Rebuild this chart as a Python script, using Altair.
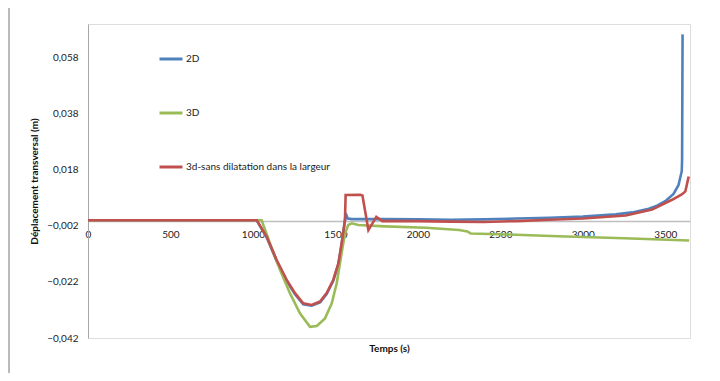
import altair as alt
import pandas as pd

# ---- data ----
series_names = ["2D", "3D", "3d-sans dilatation dans la largeur"]
series_colors = ["#4F81BD", "#9BBB59", "#C0504D"]

t_2d = [0, 1000, 1023, 1083, 1144, 1205, 1255, 1305, 1356, 1407, 1447, 1487, 1518, 1538, 1558,
        1562, 1575, 1600, 1800, 2000, 2200, 2400, 2600, 2800, 3000, 3200, 3300, 3400, 3450,
        3500, 3550, 3580, 3600, 3602, 3605]
v_2d = [0, 0, 0, -0.0061, -0.0146, -0.0217, -0.0264, -0.0300, -0.0305, -0.0293, -0.0263, -0.0216,
        -0.0157, -0.0085, 0, 0.0025, 0.0006, 0.0004, 0.0004, 0.0003, 0.0002, 0.0003, 0.0006,
        0.0009, 0.0013, 0.0021, 0.0028, 0.0041, 0.0052, 0.0068, 0.0094, 0.0125, 0.0175, 0.0215,
        0.0663]

t_3d = [0, 1053, 1103, 1164, 1225, 1285, 1346, 1387, 1437, 1478, 1508, 1534, 1558, 1578, 1599,
        1639, 1800, 2050, 2250, 2300, 2320, 2550, 2850, 3250, 3645]
v_3d = [0, 0, -0.0082, -0.0177, -0.0261, -0.0332, -0.0380, -0.0377, -0.0350, -0.0296, -0.0225,
        -0.0130, -0.0047, -0.0017, -0.0011, -0.0017, -0.0022, -0.0027, -0.0035, -0.0040,
        -0.0047, -0.0051, -0.0057, -0.0064, -0.0072]

t_3ds = [0, 1023, 1083, 1144, 1205, 1255, 1305, 1356, 1407, 1447, 1487, 1518, 1538, 1558, 1562,
         1650, 1664, 1700, 1748, 1785, 2000, 2200, 2400, 2600, 2800, 3000, 3260, 3420, 3541,
         3600, 3622, 3642]
v_3ds = [0, 0, -0.0058, -0.0142, -0.0213, -0.0260, -0.0296, -0.0302, -0.0290, -0.0260, -0.0213,
         -0.0154, -0.0082, 0, 0.0090, 0.0091, 0.0088, -0.0035, 0.0012, -0.0003, -0.0003, -0.0005,
         -0.0006, -0.0003, 0.0002, 0.0006, 0.0017, 0.0038, 0.0073, 0.0092, 0.0103, 0.0156]

y_ticks = [-0.042, -0.022, -0.002, 0.018, 0.038, 0.058]
x_ticks = [0, 500, 1000, 1500, 2000, 2500, 3000, 3500]

rows = []
for name, ts, vs in [(series_names[0], t_2d, v_2d), (series_names[1], t_3d, v_3d),
                     (series_names[2], t_3ds, v_3ds)]:
    for i, (t, v) in enumerate(zip(ts, vs)):
        rows.append({"serie": name, "t": t, "v": v, "i": i})
df = pd.DataFrame(rows)

FONT = "Lato"

lines = alt.Chart(df).mark_line(strokeWidth=2.6, clip=False).encode(
    x=alt.X("t:Q", scale=alt.Scale(domain=[0, 3650], nice=False, zero=False),
            axis=alt.Axis(values=x_ticks, format="d", offset=-117, ticks=False, grid=False,
                          domainColor="#BFBFBF", domainWidth=1.5, labelPadding=8,
                          labelFontSize=10, labelColor="#222", labelFont=FONT,
                          title="Temps (s)", titleFont=FONT, titleFontSize=10,
                          titleFontWeight="bold", titleColor="#111",
                          titleY=127, titleBaseline="middle", labelFlush=False)),
    y=alt.Y("v:Q", scale=alt.Scale(domain=[-0.042, 0.07], nice=False, zero=False),
            axis=alt.Axis(values=y_ticks, ticks=False, grid=False, domainColor="#A6A6A6",
                          labelExpr="replace(format(datum.value, '.3f'), '.', ',')",
                          labelPadding=10, labelFontSize=10, labelColor="#222", labelFont=FONT,
                          title="Déplacement transversal (m)", titleFont=FONT,
                          titleFontSize=10, titleFontWeight="bold", titleColor="#111",
                          titleX=-49)),
    color=alt.Color("serie:N", scale=alt.Scale(domain=series_names, range=series_colors),
                    sort=series_names,
                    legend=alt.Legend(title=None, orient="none", legendX=70, legendY=22,
                                      symbolType="stroke", symbolStrokeWidth=3,
                                      symbolSize=529, rowPadding=35, labelOffset=2,
                                      labelFont=FONT, labelFontSize=10, labelColor="#222",
                                      labelLimit=400)),
    order="i:Q",
)

frame = alt.Chart(pd.DataFrame({"k": [0]}))
top_edge = frame.mark_rule(stroke="#8C8C8C", strokeWidth=1.2, clip=False).encode(
    x=alt.value(-79), x2=alt.value(640), y=alt.value(-19))
left_edge = frame.mark_rule(stroke="#8C8C8C", strokeWidth=1.2, clip=False).encode(
    x=alt.value(-79), y=alt.value(-19), y2=alt.value(370))

chart = alt.layer(top_edge, left_edge, lines).properties(
    width=602, height=314,
    autosize=alt.AutoSizeParams(type="none"),
    padding={"left": 80, "top": 16, "right": 22, "bottom": 35},
).configure_view(stroke=None).configure(background="white")

chart.save("out.html", embed_options={"renderer": "svg", "actions": False})
